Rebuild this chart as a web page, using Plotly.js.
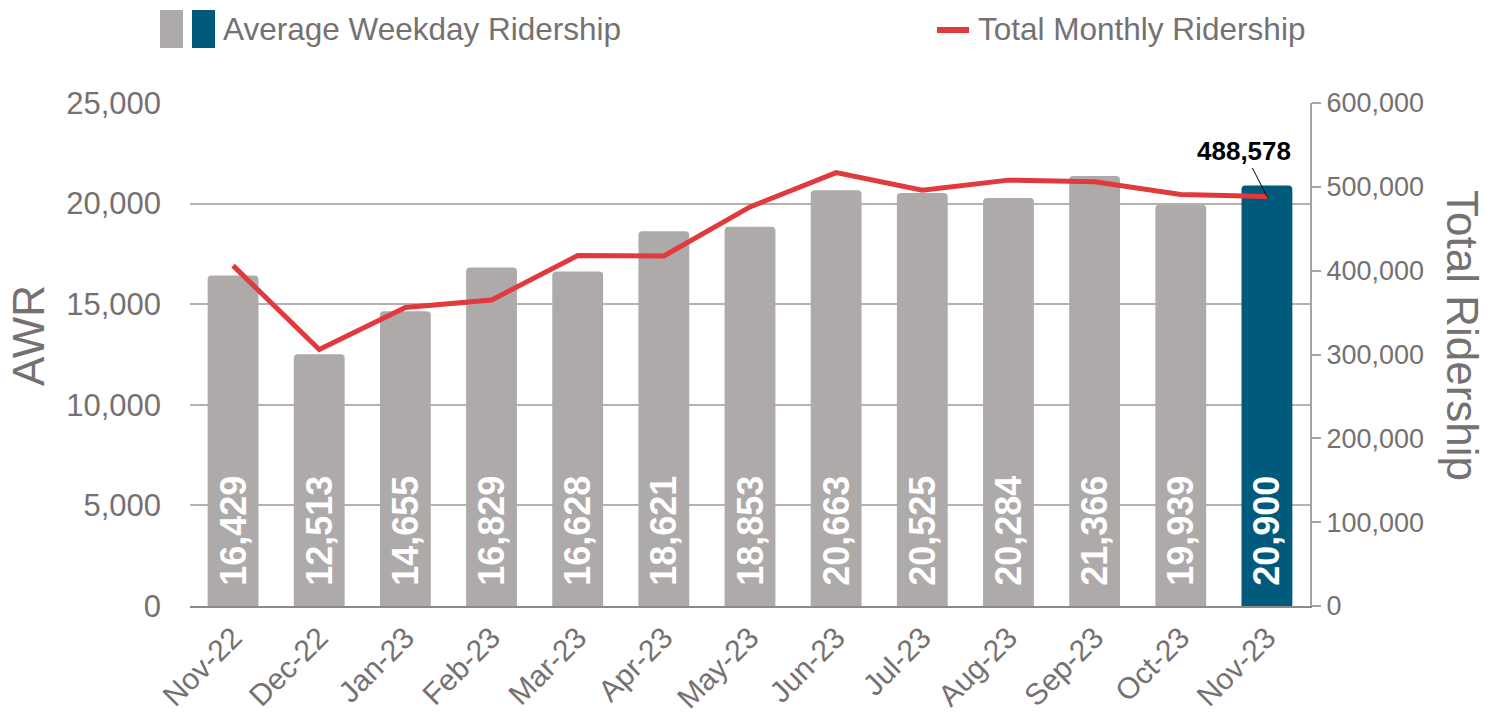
<!DOCTYPE html>
<html>
<head>
<meta charset="utf-8">
<script src="https://cdn.plot.ly/plotly-3.0.1.min.js"></script>
<style>
  html, body { margin: 0; padding: 0; background: #ffffff; }
  #chart { width: 1499px; height: 718px; }
</style>
</head>
<body>
<div id="chart"></div>
<script>
// ---- Data ----
const months = ["Nov-22","Dec-22","Jan-23","Feb-23","Mar-23","Apr-23","May-23","Jun-23","Jul-23","Aug-23","Sep-23","Oct-23","Nov-23"];
const awr = [16429, 12513, 14655, 16829, 16628, 18621, 18853, 20663, 20525, 20284, 21366, 19939, 20900];
const totalRidership = [406000, 306000, 356000, 365000, 418000, 417500, 476000, 517000, 496000, 508000, 506000, 491000, 488578];
const awrTicks = [0, 5000, 10000, 15000, 20000, 25000];
const totalTicks = [0, 100000, 200000, 300000, 400000, 500000, 600000];

// ---- Styles ----
const GRAY = "#AEAAAA";
const BLUE = "#005A7C";
const RED = "#E0393E";
const TXT = "#767171";
const FONT = "Liberation Sans, Arial, sans-serif";

const W = 1499, H = 718;
const M = {l: 190, r: 189, t: 103, b: 112};
const pw = W - M.l - M.r, ph = H - M.t - M.b;
const px = x => (x - M.l) / pw;
const py = y => (H - M.b - y) / ph;

const fmt = v => v.toLocaleString("en-US");
const last = months.length - 1;

const barColors = awr.map((v, i) => i === last ? BLUE : GRAY);

const bars = {
  type: "bar",
  x: months,
  y: awr,
  yaxis: "y",
  marker: {color: barColors, line: {width: 0}},
  text: awr.map(v => "\u00a0\u2009" + fmt(v)),
  textposition: "inside",
  insidetextanchor: "start",
  textangle: -90,
  constraintext: "none",
  textfont: {color: "#ffffff", size: 36, family: FONT, weight: "bold"},
  hoverinfo: "x+y",
  showlegend: false
};

const line = {
  type: "scatter",
  mode: "lines",
  x: months,
  y: totalRidership,
  yaxis: "y2",
  line: {color: RED, width: 5},
  hoverinfo: "x+y",
  showlegend: false
};

const layout = {
  width: W, height: H,
  margin: M,
  paper_bgcolor: "#ffffff",
  plot_bgcolor: "#ffffff",
  font: {family: FONT, color: TXT},
  bargap: 0.41,
  barcornerradius: 4,
  showlegend: false,
  xaxis: {
    type: "category",
    tickangle: -45,
    tickfont: {size: 30, color: TXT, family: FONT},
    showgrid: false,
    showline: true,
    linecolor: "#8c8989",
    linewidth: 2,
    ticks: "",
    zeroline: false,
    fixedrange: true
  },
  yaxis: {
    range: [0, 25000],
    tickvals: awrTicks,
    ticktext: awrTicks.map(fmt),
    tickfont: {size: 31, color: TXT, family: FONT},
    showgrid: true,
    gridcolor: "#B5B1B1",
    gridwidth: 2,
    zeroline: false,
    showline: false,
    ticks: "",
    ticklabelstandoff: 28,
    fixedrange: true
  },
  yaxis2: {
    overlaying: "y",
    side: "right",
    range: [0, 600000],
    tickvals: totalTicks,
    ticktext: totalTicks.map(fmt),
    tickfont: {size: 27, color: TXT, family: FONT},
    showgrid: false,
    zeroline: false,
    showline: true,
    linecolor: "#A6A3A3",
    linewidth: 2,
    ticks: "outside",
    ticklen: 9,
    tickcolor: "#A6A3A3",
    tickwidth: 2,
    fixedrange: true
  },
  shapes: [
    {type: "rect", xref: "paper", yref: "paper", x0: px(160), x1: px(183), y0: py(48), y1: py(10), fillcolor: GRAY, line: {width: 0}},
    {type: "rect", xref: "paper", yref: "paper", x0: px(192), x1: px(215), y0: py(48), y1: py(10), fillcolor: BLUE, line: {width: 0}},
    {type: "line", xref: "paper", yref: "paper", x0: px(937), x1: px(969), y0: py(30), y1: py(30), line: {color: RED, width: 6}}
  ],
  annotations: [
    {xref: "paper", yref: "paper", x: px(221), y: py(29), xanchor: "left", yanchor: "middle",
     text: "Average Weekday Ridership", showarrow: false, font: {size: 31.5, color: TXT, family: FONT}},
    {xref: "paper", yref: "paper", x: px(976), y: py(29), xanchor: "left", yanchor: "middle",
     text: "Total Monthly Ridership", showarrow: false, font: {size: 31.5, color: TXT, family: FONT}},
    {xref: "paper", yref: "paper", x: px(28), y: py(335), xanchor: "center", yanchor: "middle",
     text: "AWR", textangle: -90, showarrow: false, font: {size: 44, color: TXT, family: FONT}},
    {xref: "paper", yref: "paper", x: px(1463), y: py(335), xanchor: "center", yanchor: "middle",
     text: "Total Ridership", textangle: 90, showarrow: false, font: {size: 44, color: TXT, family: FONT}},
    {xref: "x", yref: "y2", x: months[last], y: totalRidership[last],
     text: "<b>" + fmt(totalRidership[last]) + "</b>",
     showarrow: true, arrowhead: 0, arrowwidth: 1, arrowcolor: "#000000",
     ax: -23, ay: -45, standoff: 0,
     font: {size: 26, color: "#000000", family: FONT}}
  ]
};

Plotly.newPlot("chart", [bars, line], layout, {displayModeBar: false, staticPlot: true});
</script>
</body>
</html>
